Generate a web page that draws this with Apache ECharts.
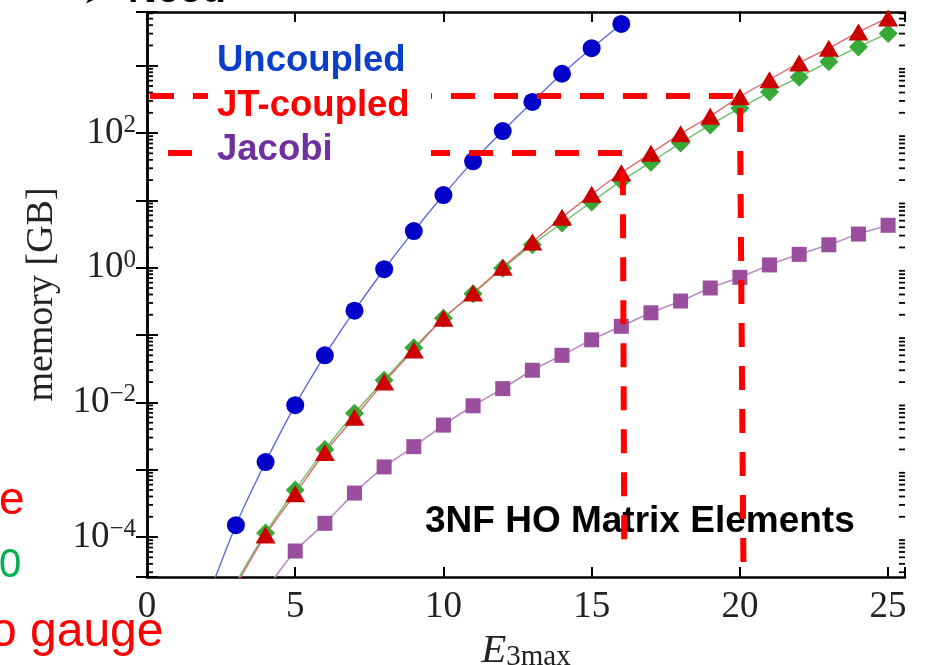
<!DOCTYPE html>
<html><head><meta charset="utf-8">
<script src="https://cdn.jsdelivr.net/npm/echarts@6/dist/echarts.min.js"></script>
<style>html,body{margin:0;padding:0;background:#fff;overflow:hidden}#c{width:926px;height:665px}</style>
</head><body><div id="c"></div>
<script>
// ---- data (memory in GB vs E3max) ----
const uncoupledX  = [2, 3, 4, 5, 6, 7, 8, 9, 10, 11, 12, 13, 14, 15, 16];
const uncoupledGB = [1.1e-5, 1.5e-4, 1.3e-3, 9.1e-3, 0.050, 0.23, 0.95, 3.5, 12, 38, 107, 290, 760, 1820, 4170];

const jtX  = [3, 4, 5, 6, 7, 8, 9, 10, 11, 12, 13, 14, 15, 16, 17, 18, 19, 20, 21, 22, 23, 24, 25];
const jtGB = [1.9e-5, 1.07e-4, 4.4e-4, 1.8e-3, 6.0e-3, 0.020, 0.060, 0.178, 0.42, 1.02, 2.4, 5.6, 12.3, 25.7, 50, 98, 178, 347, 617, 1100, 1820, 3160, 5130];

const greenX  = [3, 4, 5, 6, 7, 8, 9, 10, 11, 12, 13, 14, 15, 16, 17, 18, 19, 20, 21, 22, 23, 24, 25];
const greenGB = [2.1e-5, 1.15e-4, 5.0e-4, 2.0e-3, 6.9e-3, 0.0214, 0.065, 0.178, 0.41, 0.98, 2.2, 4.6, 9.5, 19.5, 37, 71, 132, 234, 407, 676, 1150, 1900, 3020];

const jacobiX  = [4, 5, 6, 7, 8, 9, 10, 11, 12, 13, 14, 15, 16, 17, 18, 19, 20, 21, 22, 23, 24, 25];
const jacobiGB = [1.6e-5, 6.2e-5, 1.6e-4, 4.5e-4, 1.1e-3, 2.2e-3, 4.6e-3, 8.9e-3, 0.016, 0.030, 0.050, 0.085, 0.135, 0.214, 0.32, 0.50, 0.72, 1.10, 1.58, 2.19, 3.16, 4.27];

// red dashed limit annotations: [E3max, GB]
const limit20 = [[0.1, 355], [20, 355], [20.12, 3.46e-5]];
const limit16 = [[0.71, 50.5], [16.05, 50.5], [16.1, 5.4e-5]];

// axes
const xMin = 0, xMax = 25.57, xStep = 5;
const yMin = 2.55e-5, yMax = 6280;
const yLabelExponents = [-4, -2, 0, 2];
const minorMultipliers = [2, 3, 4, 5, 6, 7, 8, 9];
const decades = [-5, -4, -3, -2, -1, 0, 1, 2, 3];

const minorTickVals = [];
decades.forEach(d => minorMultipliers.forEach(m => {
  const v = m * Math.pow(10, d);
  if (v > yMin && v < yMax) minorTickVals.push(v);
}));

function pts(xs, ys) {
  return xs.map((x, i) => {
    const it = { value: [x, ys[i]] };
    if (ys[i] < yMin) it.symbol = 'none';
    return it;
  });
}

const serif = 'Liberation Serif';
const axisCol = '#000';

const chart = echarts.init(document.getElementById('c'), null, { renderer: 'canvas' });

const yLabelFmt = function (v) {
  const e = Math.log10(v);
  const r = Math.round(e);
  if (Math.abs(e - r) > 1e-6 || yLabelExponents.indexOf(r) < 0) return '';
  return '{b|10}{s|' + (r < 0 ? '\u2212' + (-r) : String(r)) + '}';
};

const option = {
  animation: false,
  backgroundColor: '#fff',
  grid: { left: 147, right: 21, top: 12, bottom: 88, containLabel: false, outerBoundsMode: 'none' },
  xAxis: [{
    type: 'value', min: xMin, max: xMax, interval: xStep, position: 'bottom',
    axisLine: { lineStyle: { color: axisCol, width: 2.5 } },
    axisTick: { inside: true, length: 10, lineStyle: { color: axisCol, width: 2 } },
    axisLabel: {
      formatter: v => (Math.abs(v % xStep) < 1e-9 ? String(v) : ''),
      fontFamily: serif, fontSize: 37, color: '#222', margin: 12
    },
    splitLine: { show: false },
    name: '{e|E}{s|3max}', nameLocation: 'middle', nameGap: 42,
    nameTextStyle: {
      rich: {
        e: { fontFamily: serif, fontStyle: 'italic', fontSize: 41, color: '#222' },
        s: { fontFamily: serif, fontSize: 29, color: '#222', padding: [12, 0, 0, 0] }
      }
    }
  }, {
    type: 'value', min: xMin, max: xMax, interval: xStep, position: 'top',
    axisLine: { lineStyle: { color: axisCol, width: 2.5 } },
    axisTick: { inside: true, length: 10, lineStyle: { color: axisCol, width: 2 } },
    axisLabel: { show: false }, splitLine: { show: false }
  }],
  yAxis: [{
    type: 'log', logBase: 10, min: yMin, max: yMax, position: 'left',
    axisLine: { lineStyle: { color: axisCol, width: 2.5 } },
    axisTick: { inside: true, length: 11, lineStyle: { color: axisCol, width: 2 } },
    axisLabel: {
      formatter: yLabelFmt, margin: 11,
      rich: {
        b: { fontFamily: serif, fontSize: 37, color: '#222', lineHeight: 40 },
        s: { fontFamily: serif, fontSize: 25, color: '#222', verticalAlign: 'top', lineHeight: 22 }
      }
    },
    splitLine: { show: false },
    name: 'memory [GB]', nameLocation: 'middle', nameGap: 86,
    nameTextStyle: { fontFamily: serif, fontSize: 38, color: '#222' }
  }, {
    type: 'log', logBase: 10, min: yMin, max: yMax, position: 'right',
    axisLine: { lineStyle: { color: axisCol, width: 2.5 } },
    axisTick: { inside: true, length: 11, lineStyle: { color: axisCol, width: 2 } },
    axisLabel: { show: false }, splitLine: { show: false }
  }],
  series: [
    {
      name: 'minor ticks', type: 'custom', silent: true, z: 1,
      xAxisIndex: 0, yAxisIndex: 0,
      data: minorTickVals.map(v => [xMin, v]),
      renderItem: function (params, api) {
        const v = api.value(1);
        const pL = api.coord([xMin, v]);
        const pR = api.coord([xMax, v]);
        const st = { stroke: '#000', lineWidth: 1.8 };
        return {
          type: 'group', children: [
            { type: 'line', shape: { x1: pL[0], y1: pL[1], x2: pL[0] + 6, y2: pL[1] }, style: st },
            { type: 'line', shape: { x1: pR[0] - 6, y1: pR[1], x2: pR[0], y2: pR[1] }, style: st }
          ]
        };
      }
    },
    {
      name: 'Uncoupled', type: 'line', smooth: 0.3, z: 2,
      data: pts(uncoupledX, uncoupledGB),
      symbol: 'circle', symbolSize: 18,
      itemStyle: { color: '#0000c8' },
      lineStyle: { color: '#5d6cd8', width: 1.4 }
    },
    {
      name: 'JT-coupled (alt)', type: 'line', smooth: 0.3, z: 2,
      data: pts(greenX, greenGB),
      symbol: 'diamond', symbolSize: [19, 19],
      itemStyle: { color: '#36a936' },
      lineStyle: { color: '#6cc06c', width: 1.4 }
    },
    {
      name: 'JT-coupled', type: 'line', smooth: 0.3, z: 2,
      data: pts(jtX, jtGB),
      symbol: 'triangle', symbolSize: [20, 17],
      itemStyle: { color: '#cc0000' },
      lineStyle: { color: '#df6a6a', width: 1.4 }
    },
    {
      name: 'Jacobi', type: 'line', smooth: 0.3, z: 2,
      data: pts(jacobiX, jacobiGB),
      symbol: 'rect', symbolSize: 15,
      itemStyle: { color: '#9a4f9e' },
      lineStyle: { color: '#b88cc4', width: 1.6 }
    },
    {
      name: 'limit E3max=20', type: 'line', z: 3, symbol: 'none', silent: true,
      data: limit20,
      lineStyle: { color: '#ff0000', width: 6, type: [24, 19], cap: 'butt' }
    },
    {
      name: 'limit E3max=16', type: 'line', z: 3, symbol: 'none', silent: true,
      data: limit16,
      lineStyle: { color: '#ff0000', width: 6, type: [24, 19], cap: 'butt' }
    }
  ],
  graphic: [
    { type: 'text', z: 0, style: { text: '3NF HO Matrix Elements', x: 425, y: 522, verticalAlign: 'middle', font: 'bold 37px "Liberation Sans"', fill: '#000' } },
    { type: 'rect', z: 100, shape: { x: 208, y: 35, width: 223, height: 143 }, style: { fill: '#fff' } },
    { type: 'text', z: 101, style: { text: 'Uncoupled', x: 217, y: 61, verticalAlign: 'middle', font: 'bold 36.5px "Liberation Sans"', fill: '#0b3ec9' } },
    { type: 'text', z: 101, style: { text: 'JT-coupled', x: 217, y: 106, verticalAlign: 'middle', font: 'bold 36.5px "Liberation Sans"', fill: '#ff0000' } },
    { type: 'text', z: 101, style: { text: 'Jacobi', x: 217, y: 150, verticalAlign: 'middle', font: 'bold 36.5px "Liberation Sans"', fill: '#7030a0' } },
    { type: 'text', z: 101, style: { text: '\u27A4 Need', x: 83, y: -9, verticalAlign: 'middle', font: 'bold 40px "Liberation Sans"', fill: '#000' } },
    { type: 'text', z: 101, style: { text: 'e', x: -1, y: 501, verticalAlign: 'middle', font: '46px "Liberation Sans"', fill: '#ff0000' } },
    { type: 'text', z: 101, style: { text: '0', x: -1, y: 566, verticalAlign: 'middle', font: '40px "Liberation Sans"', fill: '#00b050' } },
    { type: 'text', z: 101, style: { text: 'o gauge', x: -10, y: 633, verticalAlign: 'middle', font: '48px "Liberation Sans"', fill: '#ff0000' } }
  ]
};
chart.setOption(option);
</script>
</body></html>
